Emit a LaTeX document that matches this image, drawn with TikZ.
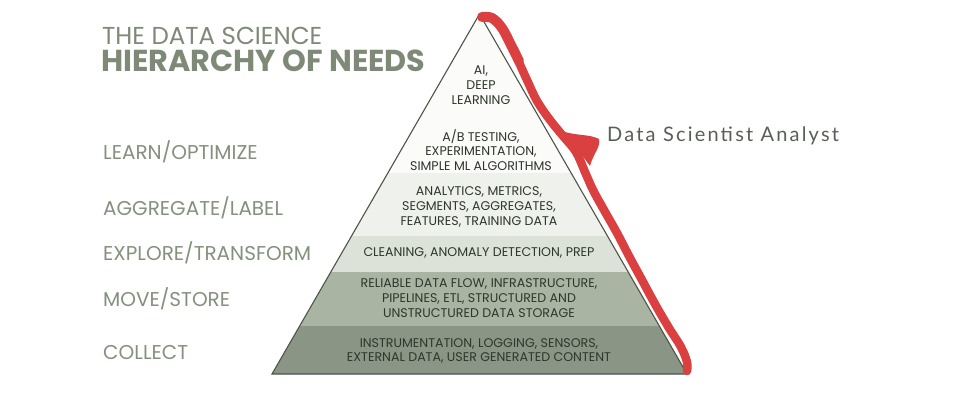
\documentclass[tikz,border=0pt]{standalone}
\usepackage{fontspec}
\setmainfont{Poppins}
\newfontfamily\labelfont[LetterSpace=11]{Lato}
\definecolor{headc}{HTML}{7E8A77}
\definecolor{stagec}{HTML}{85917F}
\definecolor{inkc}{HTML}{2E372B}
\definecolor{edgec}{HTML}{4C5548}
\definecolor{bandA}{HTML}{8B9585}
\definecolor{bandB}{HTML}{AAB4A2}
\definecolor{bandC}{HTML}{DDE2D8}
\definecolor{bandD}{HTML}{EFF1EC}
\definecolor{bandE}{HTML}{FBFBFA}
\definecolor{redc}{HTML}{D9403F}
\tikzset{
  stage/.style={anchor=west, inner sep=0pt, text=stagec, font=\fontsize{20}{22}\selectfont},
  tier/.style={align=center, inner sep=0pt, text=inkc, font=\fontsize{12.6}{14.8}\selectfont},
  head/.style={anchor=west, inner sep=0pt, text=headc}
}
\begin{document}
\begin{tikzpicture}[x=1pt,y=-1pt]
\useasboundingbox (0,0) rectangle (975,400);
\fill[white] (0,0) rectangle (975,400);

% pyramid corners
\coordinate (apex) at (479.5,14);
\coordinate (bl) at (272,374);
\coordinate (br) at (687,374);

% coloured tiers
\begin{scope}
  \clip (apex) -- (br) -- (bl) -- cycle;
  \fill[bandE] (260,10) rectangle (700,173);
  \fill[bandD] (260,173) rectangle (700,236);
  \fill[bandC] (260,236) rectangle (700,272);
  \fill[bandB] (260,272) rectangle (700,326);
  \fill[bandA] (260,326) rectangle (700,380);
\end{scope}
\draw[edgec, line width=1.1pt, line join=miter] (apex) -- (br) -- (bl) -- cycle;

% title
\node[head, font=\fontsize{24.5}{26}\selectfont] (t1) at (102,36) {THE DATA SCIENCE};
\node[head, font=\fontsize{30.3}{32}\selectfont\bfseries] (t2) at (101,61) {HIERARCHY OF NEEDS};

% stage labels
\node[stage] (s1) at (103,152) {LEARN/OPTIMIZE};
\node[stage] (s2) at (103,208) {AGGREGATE/LABEL};
\node[stage] (s3) at (103,253) {EXPLORE/TRANSFORM};
\node[stage] (s4) at (103,299) {MOVE/STORE};
\node[stage] (s5) at (103,353) {COLLECT};

% tier texts
\node[tier] (p1) at (481,85) {AI,\\DEEP\\LEARNING};
\node[tier] (p2) at (481,150) {A/B TESTING,\\EXPERIMENTATION,\\SIMPLE ML ALGORITHMS};
\node[tier] (p3) at (479,207) {ANALYTICS, METRICS,\\SEGMENTS, AGGREGATES,\\FEATURES, TRAINING DATA};
\node[tier] (p4) at (479,253) {CLEANING, ANOMALY DETECTION, PREP};
\node[tier] (p5) at (479,298) {RELIABLE DATA FLOW, INFRASTRUCTURE,\\PIPELINES, ETL, STRUCTURED AND\\UNSTRUCTURED DATA STORAGE};
\node[tier] (p6) at (479,351) {INSTRUMENTATION, LOGGING, SENSORS,\\EXTERNAL DATA, USER GENERATED CONTENT};

% hand-drawn red bracket along the right side
\draw[redc, line width=10pt, line cap=round, line join=round]
  plot[smooth, tension=0.6] coordinates {(482,17) (492,18) (502,28) (511,45) (519,61)};
\draw[redc, line width=8.5pt, line cap=round, line join=round]
  plot[smooth, tension=0.6] coordinates {(517,58) (527,80) (537,101) (550,120) (563,136)
    (576,152) (585,172) (593,190) (604,210) (617,233) (629,256) (642,280) (655,304)
    (669,328) (681,347) (687,362) (687,371)};
\fill[redc] (562,131) .. controls (576,136) and (590,134) .. (599,139)
  .. controls (601,147) and (593,154) .. (590,166)
  -- (578,150) -- cycle;

\node[anchor=west, inner sep=0pt, text=inkc!80, font=\labelfont\fontsize{20}{22}\selectfont] (who) at (607,136) {Data Scientist Analyst};
\end{tikzpicture}
\end{document}
